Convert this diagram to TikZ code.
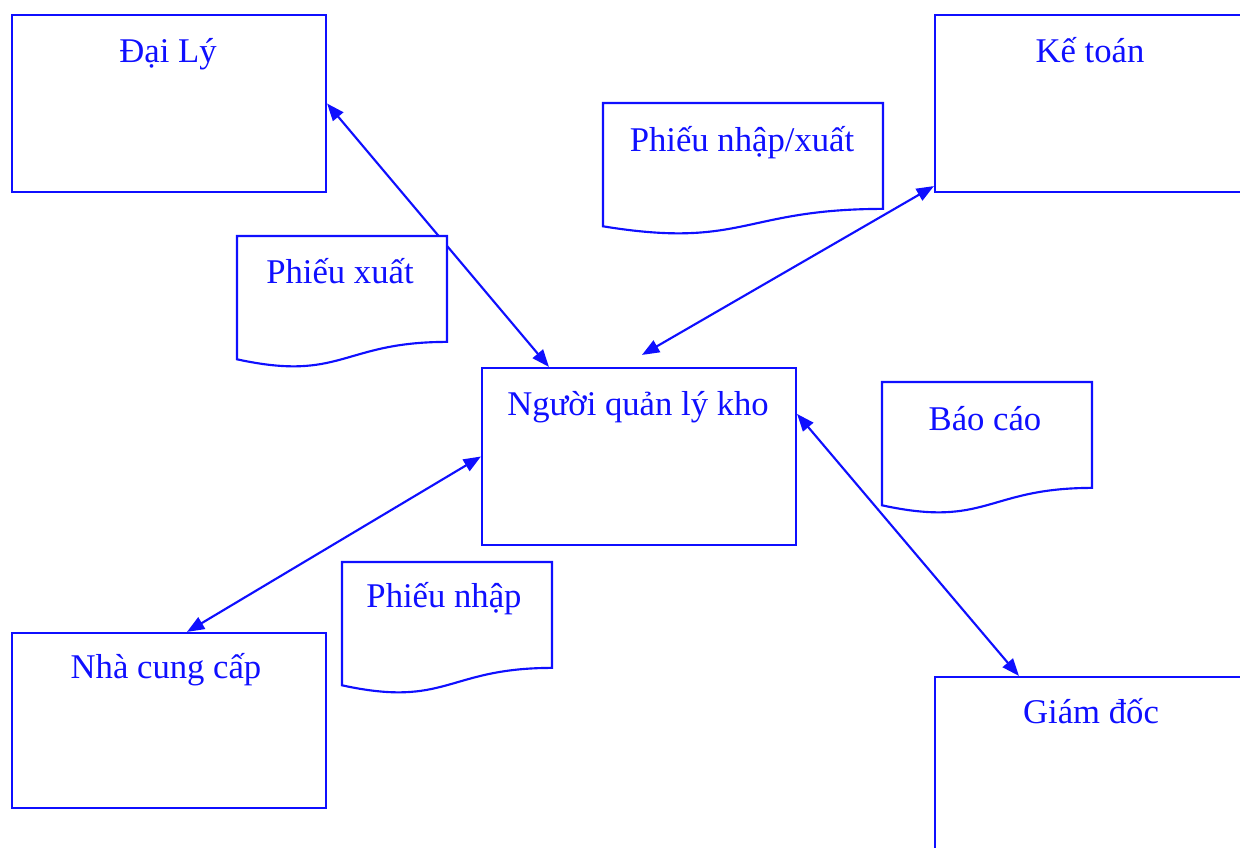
\documentclass[tikz,border=0pt]{standalone}
\usepackage{fontspec}
\setmainfont{Liberation Serif}
\usetikzlibrary{arrows.meta,calc,fit}
\definecolor{ink}{RGB}{15,15,255}
\newcommand\docshape[3]{%
  \draw[docbox] (#1,#2) -- (#3,#2) -- (#3,#2+105.9)
    .. controls ({(#1+#3)/2},#2+105.9) and ({(#1+#3)/2},#2+146.2) .. (#1,#2+123.3) -- cycle;}
\begin{document}
\begin{tikzpicture}[x=0.75pt,y=-0.75pt,
  box/.style={draw=ink,line width=1.6pt,inner sep=0pt},
  docbox/.style={draw=ink,fill=white,line width=1.6pt,line join=miter},
  lbl/.style={text=ink,font=\fontsize{26}{31}\selectfont,anchor=base,inner sep=0pt},
  conn/.style={draw=ink,line width=1.6pt,{Triangle[length=13pt,width=10pt]}-{Triangle[length=13pt,width=10pt]}}]
\useasboundingbox (0,0) rectangle (1240,847);
% boxes
\node[box,fit={(12,15)(326,192)}] (dl) {};
\node[box,fit={(935,15)(1260,192)}] (kt) {};
\node[box,fit={(482,368)(796,545)}] (nql) {};
\node[box,fit={(12,633)(326,808)}] (ncc) {};
\node[box,fit={(935,677)(1260,870)}] (gd) {};
% connectors
\draw[conn] (dl.east) -- ($(nql.north west)+(68,0)$);
\draw[conn] ($(nql.north west)+(161,-12)$) -- ($(kt.south west)+(0,-7)$);
\draw[conn] (nql.west) -- ($(ncc.north west)+(176,0)$);
\draw[conn] ($(nql.north east)+(0,47)$) -- ($(gd.north west)+(85,0)$);
% documents
\docshape{237}{236}{447}
\docshape{603}{103}{883}
\docshape{882}{382}{1092}
\docshape{342}{562}{552}
% labels
\node[lbl] (tdl) at (168,62) {Đại Lý};
\node[lbl] (tkt) at (1090,62) {Kế toán};
\node[lbl] (tnql) at (638,415) {Người quản lý kho};
\node[lbl] (tncc) at (166,678) {Nhà cung cấp};
\node[lbl] (tgd) at (1091,723) {Giám đốc};
\node[lbl] (tpx) at (340,283) {Phiếu xuất};
\node[lbl] (tpnx) at (742,151) {Phiếu nhập/xuất};
\node[lbl] (tbc) at (985,430) {Báo cáo};
\node[lbl] (tpn) at (444,607) {Phiếu nhập};
\end{tikzpicture}
\end{document}
